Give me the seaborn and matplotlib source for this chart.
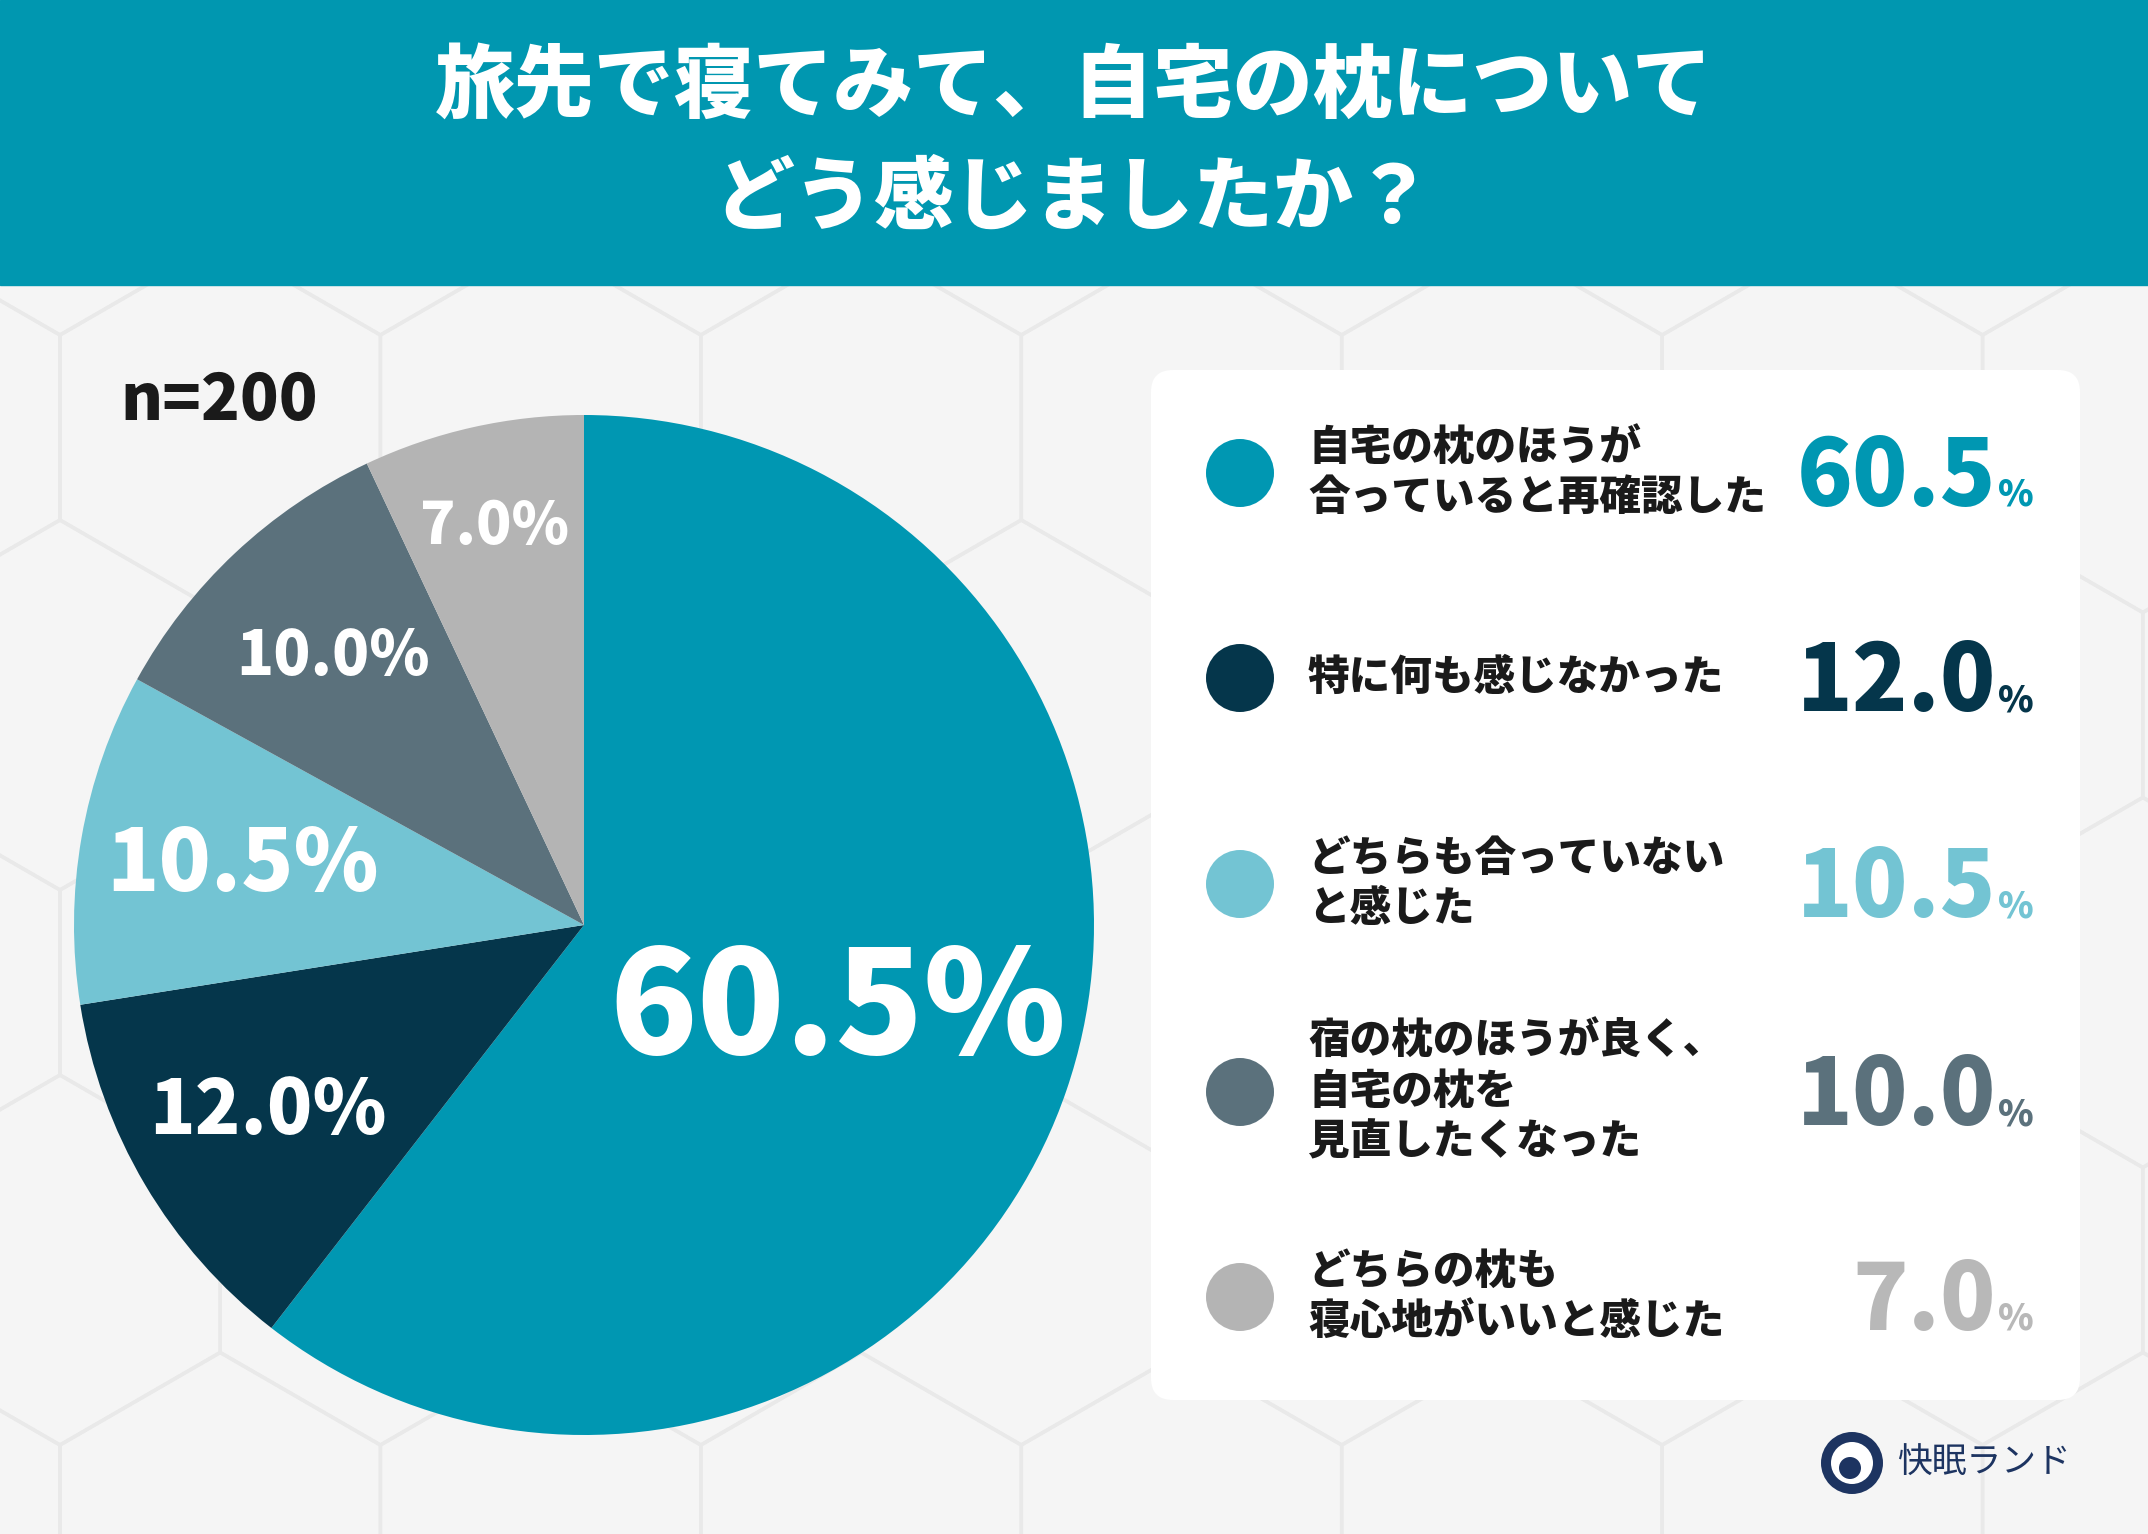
import numpy as np
import matplotlib
matplotlib.use('Agg')
import matplotlib.pyplot as plt
import seaborn as sns
from matplotlib.patches import Rectangle, FancyBboxPatch, Circle, RegularPolygon

# data
title_lines = ['旅先で寝てみて、自宅の枕について', 'どう感じましたか？']
answers = ['自宅の枕のほうが\n合っていると再確認した',
           '特に何も感じなかった',
           'どちらも合っていない\nと感じた',
           '宿の枕のほうが良く、\n自宅の枕を\n見直したくなった',
           'どちらの枕も\n寝心地がいいと感じた']
shares = [60.5, 12.0, 10.5, 10.0, 7.0]
sample_label = 'n=200'
brand = '快眠ランド'

colors = ['#0097B2', '#05364B', '#73C4D3', '#5B717C', '#B4B4B4']
legend_num_colors = ['#0097B2', '#05364B', '#73C4D3', '#5B717C', '#B8B8B8']

sns.set_theme(style='white')
plt.rcParams['font.family'] = ['Noto Sans CJK JP', 'DejaVu Sans']
heavy = 'black'

W, H = 2148, 1534
fig = plt.figure(figsize=(W / 100, H / 100), dpi=100)

# background axes in pixel coordinates
bg = fig.add_axes([0, 0, 1, 1])
bg.set_xlim(0, W)
bg.set_ylim(H, 0)
bg.axis('off')
bg.add_patch(Rectangle((0, 0), W, H, color='#F5F5F5', zorder=0))

# faint hexagon pattern
r = 185
for row in range(-1, 8):
    for col in range(-1, 9):
        cx = col * np.sqrt(3) * r + (row % 2) * np.sqrt(3) * r / 2 + 60
        cy = row * 1.5 * r + 150
        bg.add_patch(RegularPolygon((cx, cy), 6, radius=r, orientation=0,
                                    fc='none', ec='#E9E9E9', lw=2.5, zorder=1))

# header band
bg.add_patch(Rectangle((0, 0), W, 285, color='#0097B0', zorder=2))
bg.text(W / 2, 87, title_lines[0], ha='center', va='center', fontsize=57.5,
        weight=heavy, color='white', zorder=3)
bg.text(W / 2, 199, title_lines[1], ha='center', va='center', fontsize=57.5,
        weight=heavy, color='white', zorder=3)

bg.text(120, 401, sample_label, ha='left', va='center', fontsize=46,
        weight=heavy, color='#1A1A1A', zorder=3)

# pie
pax = fig.add_axes([74 / W, 99 / H, 1020 / W, 1020 / H])
wedges, _ = pax.pie(shares, colors=colors, startangle=90, counterclock=False,
                    radius=1, wedgeprops=dict(linewidth=0))
pax.set_xlim(-1, 1)
pax.set_ylim(-1, 1)
pax.set_aspect('equal')
pax.axis('off')

label_dist = [0.525, 0.72, 0.68, 0.72, 0.80]
label_size = [104, 54, 62, 44, 42]
for w, v, d, fs in zip(wedges, shares, label_dist, label_size):
    ang = np.deg2rad((w.theta1 + w.theta2) / 2)
    pax.text(d * np.cos(ang), d * np.sin(ang), f'{v:.1f}%', ha='center',
             va='center', fontsize=fs, weight=heavy, color='white')

# legend card
bg.add_patch(FancyBboxPatch((1151, 370), 929, 1030,
                            boxstyle='round,pad=0,rounding_size=22',
                            fc='white', ec='none', zorder=3))
row_y = [473, 678, 884, 1092, 1297]
renderer = fig.canvas.get_renderer()
inv = bg.transData.inverted()
for y, lab, v, c, nc in zip(row_y, answers, shares, colors, legend_num_colors):
    bg.add_patch(Circle((1240, y), 34, fc=c, ec='none', zorder=4))
    bg.text(1308, y, lab, ha='left', va='center', fontsize=30, weight=heavy,
            color='#1A1A1A', linespacing=1.25, zorder=4)
    pct = bg.text(2034, y + 33, '%', ha='right', va='baseline', fontsize=26,
                  weight=heavy, color=nc, zorder=4)
    bb = pct.get_window_extent(renderer)
    x_left = inv.transform((bb.x0, bb.y0))[0]
    bg.text(x_left - 2, y + 33, f'{v:.1f}', ha='right', va='baseline',
            fontsize=66, weight=heavy, color=nc, zorder=4)

# brand mark
bg.add_patch(Circle((1852, 1463), 31, fc='#1D3461', ec='none', zorder=4))
bg.add_patch(Circle((1852, 1463), 21, fc='white', ec='none', zorder=5))
bg.add_patch(Circle((1850, 1468), 11, fc='#1D3461', ec='none', zorder=6))
bg.text(1897, 1463, brand, ha='left', va='center', fontsize=25,
        color='#1D3461', zorder=4)

fig.savefig('out.png', dpi=100)
